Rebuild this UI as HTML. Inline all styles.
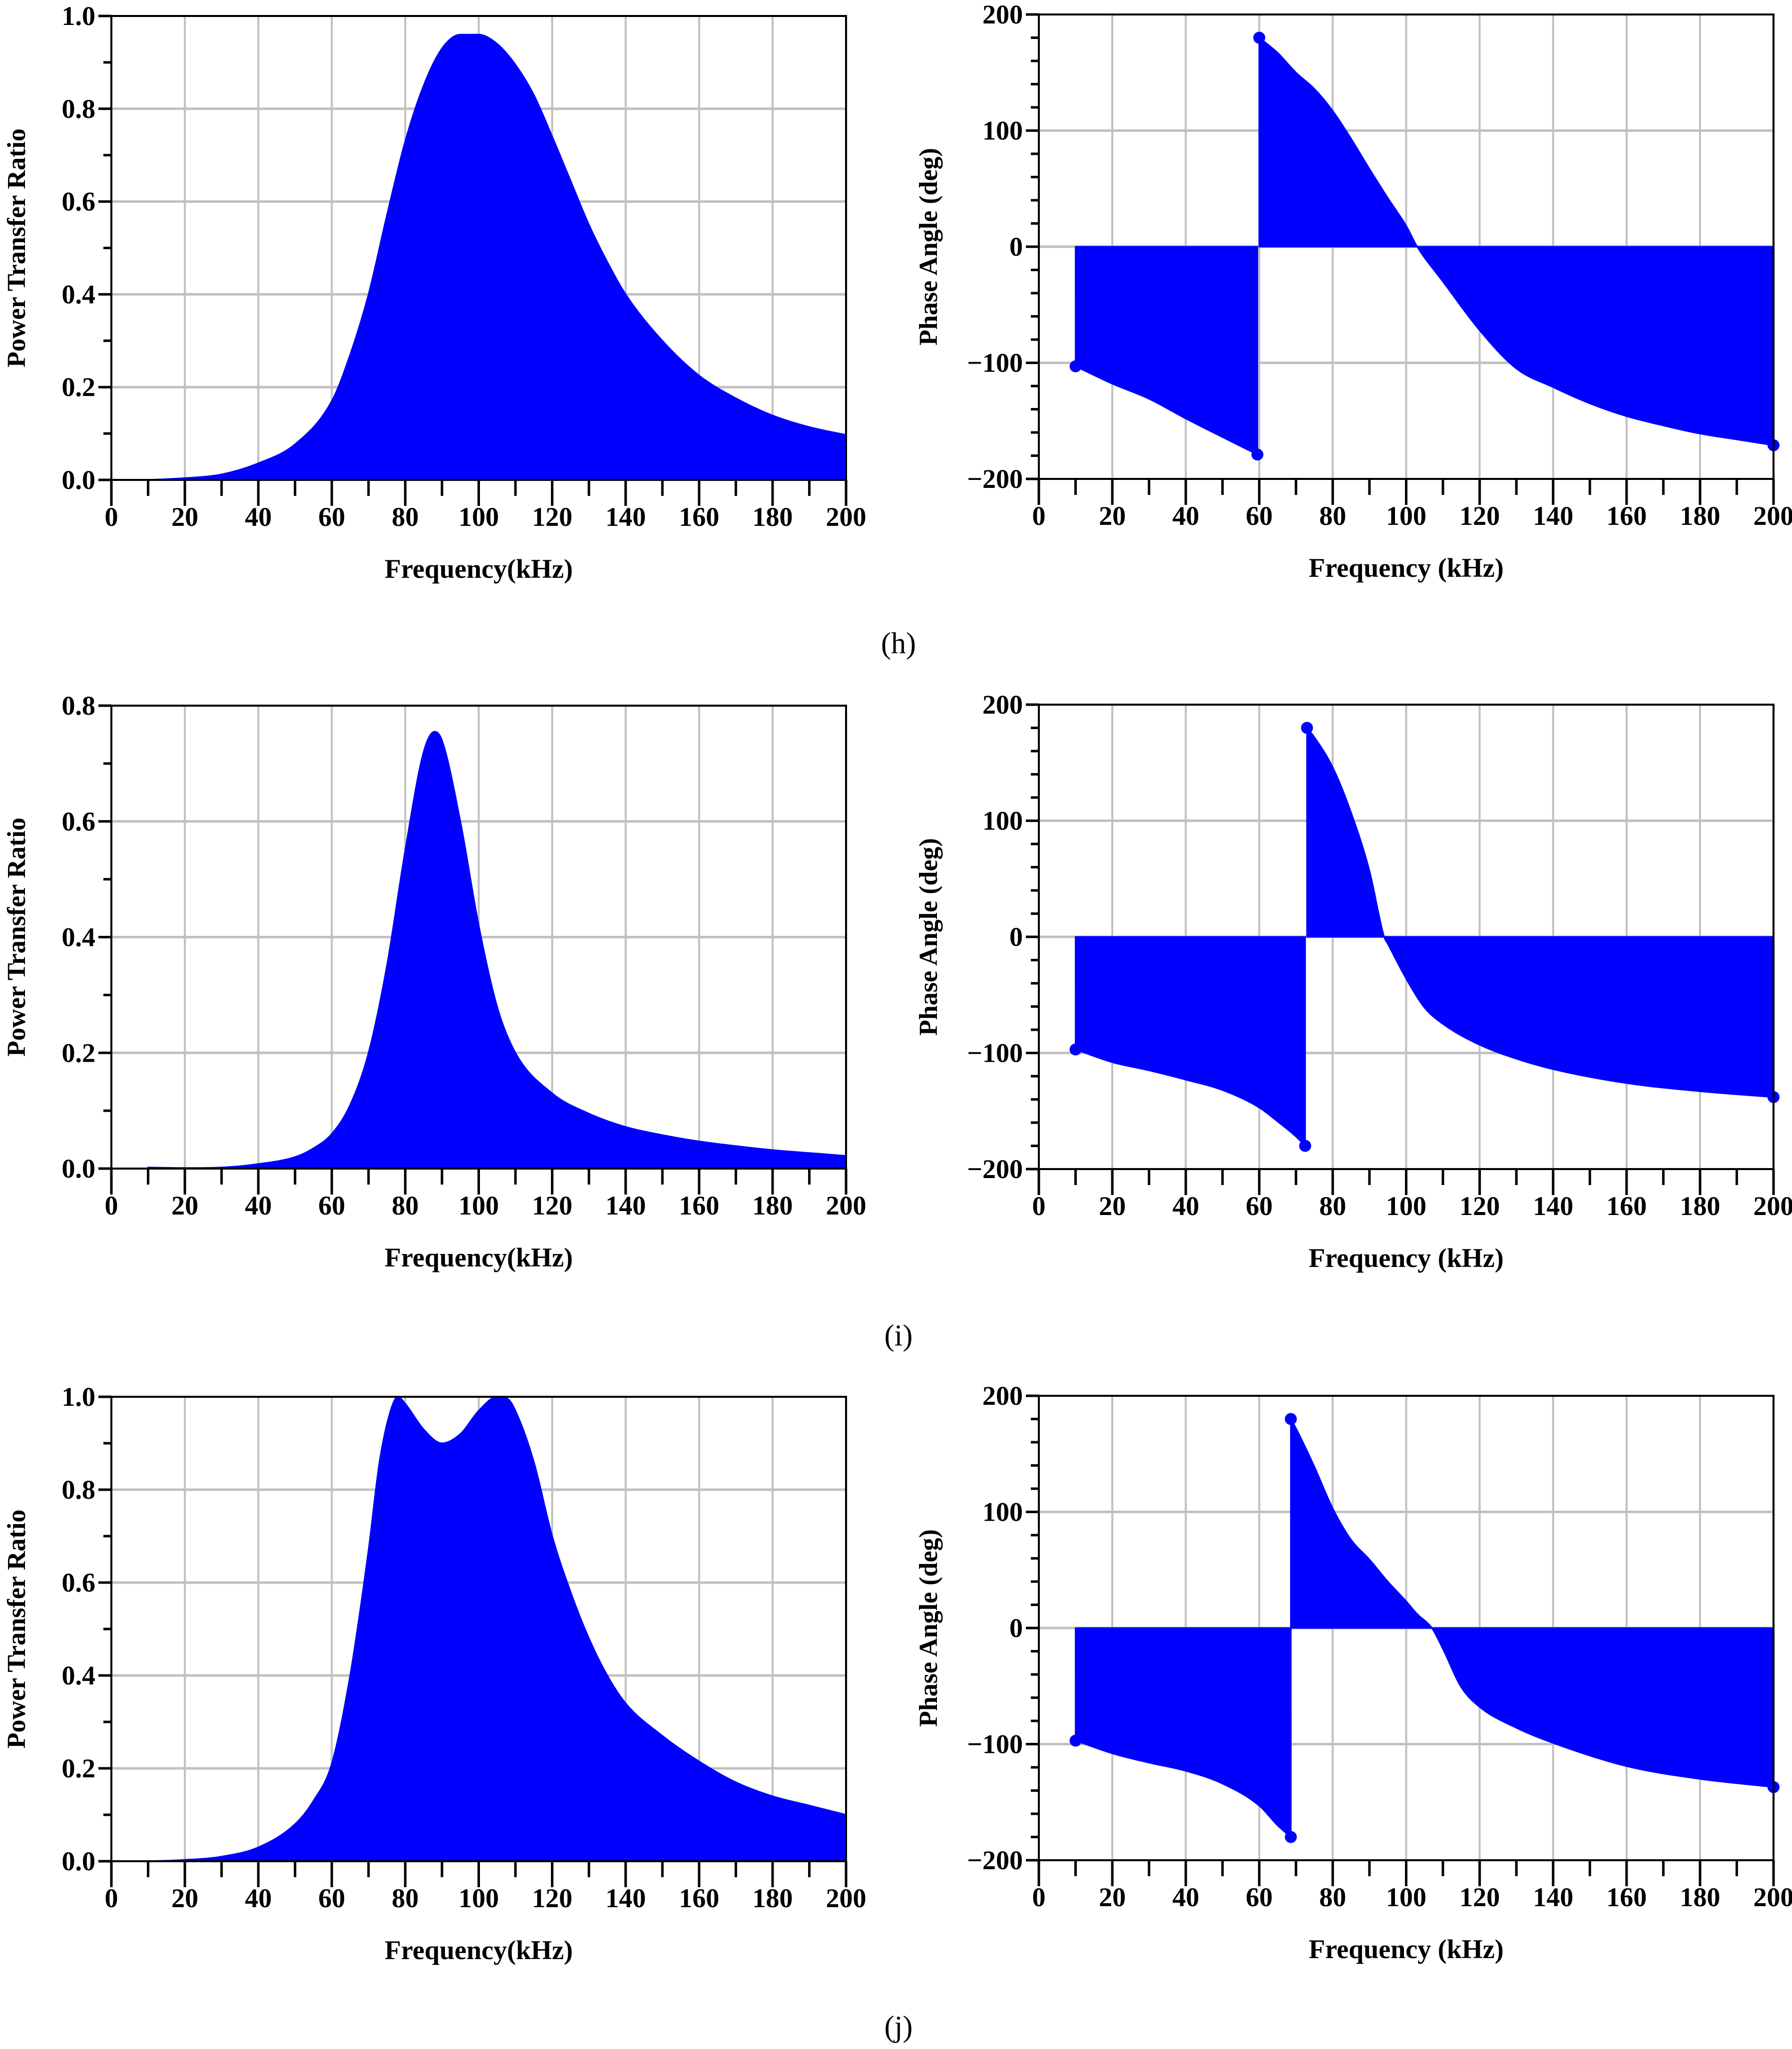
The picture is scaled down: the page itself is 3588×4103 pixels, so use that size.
<!DOCTYPE html>
<html><head><meta charset="utf-8">
<style>
html,body{margin:0;padding:0;background:#fff;}
svg{display:block;}
text{font-family:"Liberation Serif",serif;font-weight:bold;fill:#000;}
</style></head>
<body>
<svg id="fig" width="3588" height="4103" viewBox="0 0 3588 4103" xmlns="http://www.w3.org/2000/svg">
<text x="1799" y="1308" font-size="60" text-anchor="middle" style="font-weight:normal">(h)</text>
<text x="1799" y="2694" font-size="60" text-anchor="middle" style="font-weight:normal">(i)</text>
<text x="1799" y="4078" font-size="60" text-anchor="middle" style="font-weight:normal">(j)</text>
</svg>
<script>
// ---- data ----
const hPowerFreq = [10,20,30,40,50,60,65,70,75,80,85,90,95,100,105,110,115,120,125,130,135,140,150,160,170,180,190,200];
const hPowerVal  = [0,0.004,0.012,0.036,0.077,0.17,0.27,0.40,0.57,0.73,0.85,0.93,0.96,0.96,0.94,0.895,0.83,0.74,0.645,0.55,0.47,0.40,0.30,0.225,0.176,0.139,0.114,0.097];
const hPhaseFreqA = [10,20,30,40,50,59.5];
const hPhaseValA  = [-103,-118,-131,-148,-164,-179];
const hPhaseFreqB = [60,65,70,75,80,85,90,95,100,103,110,120,130,140,150,160,170,180,190,200];
const hPhaseValB  = [180,167,150,136,117,93,67,42,18,0,-30,-72,-105,-121,-135,-146,-154,-161,-166,-171];

const iPowerFreq = [10,20,30,40,50,55,60,65,70,75,80,85,88,90,95,100,105,110,120,130,140,150,160,170,180,190,200];
const iPowerVal  = [0.002,0.001,0.002,0.008,0.02,0.035,0.06,0.11,0.2,0.35,0.55,0.72,0.755,0.74,0.6,0.42,0.28,0.2,0.13,0.095,0.072,0.058,0.047,0.039,0.032,0.027,0.022];
const iPhaseFreqA = [10,20,30,40,50,60,65,70,72.5];
const iPhaseValA  = [-97,-108,-115,-123,-132,-147,-159,-172,-180];
const iPhaseFreqB = [73,75,80,85,90,94,95,100,105,110,120,130,140,160,180,200];
const iPhaseValB  = [180,172,146,107,57,0,-6,-36,-61,-75,-93,-105,-114,-126,-133,-138];

const jPowerFreq = [10,20,30,40,50,55,60,65,70,73,76,78,80,85,90,95,100,105,108,110,115,120,125,130,135,140,150,160,170,180,190,200];
const jPowerVal  = [0,0.003,0.01,0.03,0.08,0.13,0.21,0.40,0.67,0.86,0.97,1.0,0.985,0.93,0.9,0.92,0.97,1.0,0.995,0.97,0.86,0.70,0.58,0.48,0.40,0.34,0.27,0.215,0.17,0.14,0.12,0.10];
const jPhaseFreqA = [10,20,30,40,50,60,65,68.6];
const jPhaseValA  = [-97,-108,-116,-123,-134,-153,-170,-180];
const jPhaseFreqB = [68.6,70,75,80,85,90,95,100,103,107,110,115,120,130,140,160,180,200];
const jPhaseValB  = [180,172,139,103,76,59,40,23,12,0,-18,-51,-68,-86,-99,-119,-130,-137];

const xTickLabels = ["0","20","40","60","80","100","120","140","160","180","200"];
const powerTicks1 = ["0.0","0.2","0.4","0.6","0.8","1.0"];
const powerTicks2 = ["0.0","0.2","0.4","0.6","0.8"];
const phaseTicks  = ["\u2212200","\u2212100","0","100","200"];

// ---- drawing ----
const NS = "http://www.w3.org/2000/svg";
const svg = document.getElementById("fig");
function mk(tag, attrs, parent){
  const e = document.createElementNS(NS, tag);
  for (const k in attrs) e.setAttribute(k, attrs[k]);
  (parent||svg).appendChild(e);
  return e;
}
// monotone cubic path through pixel points
function smoothPath(P){
  const n=P.length; if(n<3){return P.map(p=>" L"+p[0].toFixed(1)+","+p[1].toFixed(1)).join("");}
  const d=[],m=[];
  for(let i=0;i<n-1;i++) d.push((P[i+1][1]-P[i][1])/(P[i+1][0]-P[i][0]));
  m[0]=d[0]; m[n-1]=d[n-2];
  for(let i=1;i<n-1;i++){ m[i]=(d[i-1]*d[i]<=0)?0:(d[i-1]+d[i])/2; }
  for(let i=0;i<n-1;i++){ if(d[i]===0){m[i]=0;m[i+1]=0;continue;}
    const a=m[i]/d[i],b=m[i+1]/d[i],s=a*a+b*b; if(s>9){const t=3/Math.sqrt(s);m[i]=t*a*d[i];m[i+1]=t*b*d[i];} }
  let s=" L"+P[0][0].toFixed(1)+","+P[0][1].toFixed(1);
  for(let i=0;i<n-1;i++){const h=(P[i+1][0]-P[i][0])/3;
    s+=" C"+(P[i][0]+h).toFixed(1)+","+(P[i][1]+m[i]*h).toFixed(1)+" "+(P[i+1][0]-h).toFixed(1)+","+(P[i+1][1]-m[i+1]*h).toFixed(1)+" "+P[i+1][0].toFixed(1)+","+P[i+1][1].toFixed(1);}
  return s;
}

function chart(cfg){
  const g = mk("g", {});
  
  
  const L=cfg.L,R=cfg.R,T=cfg.T,B=cfg.B;
  const xs = f => L + (f-0)/200*(R-L);
  const ys = v => B - (v-cfg.ymin)/(cfg.ymax-cfg.ymin)*(B-T);
  for (let f=20; f<200; f+=20){
    const l = mk("line",{x1:xs(f),x2:xs(f),y1:T,y2:B,stroke:"#c0c0c0","stroke-width":4},g);
    
    
  }
  cfg.ticks.forEach((t,i)=>{
    const v = cfg.ymin + i*cfg.ystep;
    if (i>0 && i<cfg.ticks.length-1){
      const l = mk("line",{x1:L,x2:R,y1:ys(v),y2:ys(v),stroke:"#c0c0c0","stroke-width":5},g);
      
      
    }
  });
  cfg.series.forEach(s=>{
    const pts = s.f.map((f,i)=>[xs(f),ys(s.v[i])]);
    let d = "M"+xs(s.f[0])+","+ys(0) + smoothPath(pts) + " L"+xs(s.f[s.f.length-1])+","+ys(0)+" Z";
    const p = mk("path",{d:d,fill:"#0000ff",stroke:"#0000ff","stroke-width":3,"stroke-linejoin":"round"},g);
    
    
  });
  (cfg.dots||[]).forEach(dt=>{
    const c = mk("circle",{cx:xs(dt[0]),cy:ys(dt[1]),r:12,fill:"#0000ff"},g);
    
    
  });
  const fr = mk("rect",{x:L,y:T,width:R-L,height:B-T,fill:"none",stroke:"#000","stroke-width":4},g);
  
  
  for (let f=0; f<=200; f+=10){
    const l = mk("line",{x1:xs(f),x2:xs(f),y1:B,y2:B+(f%20==0?52:32),stroke:"#000","stroke-width":5},g);
    
    
  }
  xTickLabels.forEach((t,i)=>{
    const tx = mk("text",{x:xs(i*20),y:B+92,"font-size":54,"text-anchor":"middle"},g);
    tx.textContent = t;
    
    
  });
  const nMinor = cfg.minor;
  for (let i=0;i<=(cfg.ticks.length-1)*nMinor;i++){
    const v = cfg.ymin + i*cfg.ystep/nMinor;
    const major = i%nMinor==0;
    const l = mk("line",{x1:L-(major?26:16),x2:L,y1:ys(v),y2:ys(v),stroke:"#000","stroke-width":5},g);
    
    
  }
  cfg.ticks.forEach((t,i)=>{
    const v = cfg.ymin + i*cfg.ystep;
    const tx = mk("text",{x:L-32,y:ys(v)+18,"font-size":54,"text-anchor":"end"},g);
    tx.textContent = t;
    
    
  });
  const xt = mk("text",{x:(L+R)/2,y:B+196,"font-size":54,"text-anchor":"middle"},g);
  xt.textContent = cfg.xtitle;
  
  
  const yx = cfg.ytx, yy=(T+B)/2;
  const yt = mk("text",{x:yx,y:yy,"font-size":52,"text-anchor":"middle",transform:"rotate(-90 "+yx+" "+yy+")"},g);
  yt.textContent = cfg.ytitle;
  
  
}

const leftL=223, leftR=1694, rightL=2080, rightR=3551;
const rows = [
  {T:32,B:961, pT:29,pB:959},
  {T:1413,B:2340, pT:1411,pB:2341},
  {T:2797,B:3727, pT:2795,pB:3725}
];
chart({name:"chart-h-power",L:leftL,R:leftR,T:rows[0].T,B:rows[0].B,ymin:0,ymax:1,ystep:0.2,minor:2,ticks:powerTicks1,
  series:[{name:"power-area-h",f:hPowerFreq,v:hPowerVal}],xtitle:"Frequency(kHz)",ytitle:"Power Transfer Ratio",ytx:50});
chart({name:"chart-h-phase",L:rightL,R:rightR,T:rows[0].pT,B:rows[0].pB,ymin:-200,ymax:200,ystep:100,minor:5,ticks:phaseTicks,
  series:[{name:"phase-area-h-low",f:hPhaseFreqA,v:hPhaseValA},{name:"phase-area-h-high",f:hPhaseFreqB,v:hPhaseValB}],
  dots:[[hPhaseFreqA[0],hPhaseValA[0]],[hPhaseFreqA[hPhaseFreqA.length-1],hPhaseValA[hPhaseValA.length-1]],[hPhaseFreqB[0],hPhaseValB[0]],[hPhaseFreqB[hPhaseFreqB.length-1],hPhaseValB[hPhaseValB.length-1]]],
  xtitle:"Frequency (kHz)",ytitle:"Phase Angle (deg)",ytx:1876});
chart({name:"chart-i-power",L:leftL,R:leftR,T:rows[1].T,B:rows[1].B,ymin:0,ymax:0.8,ystep:0.2,minor:2,ticks:powerTicks2,
  series:[{name:"power-area-i",f:iPowerFreq,v:iPowerVal}],xtitle:"Frequency(kHz)",ytitle:"Power Transfer Ratio",ytx:50});
chart({name:"chart-i-phase",L:rightL,R:rightR,T:rows[1].pT,B:rows[1].pB,ymin:-200,ymax:200,ystep:100,minor:5,ticks:phaseTicks,
  series:[{name:"phase-area-i-low",f:iPhaseFreqA,v:iPhaseValA},{name:"phase-area-i-high",f:iPhaseFreqB,v:iPhaseValB}],
  dots:[[iPhaseFreqA[0],iPhaseValA[0]],[iPhaseFreqA[iPhaseFreqA.length-1],iPhaseValA[iPhaseValA.length-1]],[iPhaseFreqB[0],iPhaseValB[0]],[iPhaseFreqB[iPhaseFreqB.length-1],iPhaseValB[iPhaseValB.length-1]]],
  xtitle:"Frequency (kHz)",ytitle:"Phase Angle (deg)",ytx:1876});
chart({name:"chart-j-power",L:leftL,R:leftR,T:rows[2].T,B:rows[2].B,ymin:0,ymax:1,ystep:0.2,minor:2,ticks:powerTicks1,
  series:[{name:"power-area-j",f:jPowerFreq,v:jPowerVal}],xtitle:"Frequency(kHz)",ytitle:"Power Transfer Ratio",ytx:50});
chart({name:"chart-j-phase",L:rightL,R:rightR,T:rows[2].pT,B:rows[2].pB,ymin:-200,ymax:200,ystep:100,minor:5,ticks:phaseTicks,
  series:[{name:"phase-area-j-low",f:jPhaseFreqA,v:jPhaseValA},{name:"phase-area-j-high",f:jPhaseFreqB,v:jPhaseValB}],
  dots:[[jPhaseFreqA[0],jPhaseValA[0]],[jPhaseFreqA[jPhaseFreqA.length-1],jPhaseValA[jPhaseValA.length-1]],[jPhaseFreqB[0],jPhaseValB[0]],[jPhaseFreqB[jPhaseFreqB.length-1],jPhaseValB[jPhaseValB.length-1]]],
  xtitle:"Frequency (kHz)",ytitle:"Phase Angle (deg)",ytx:1876});
</script>
</body></html>
